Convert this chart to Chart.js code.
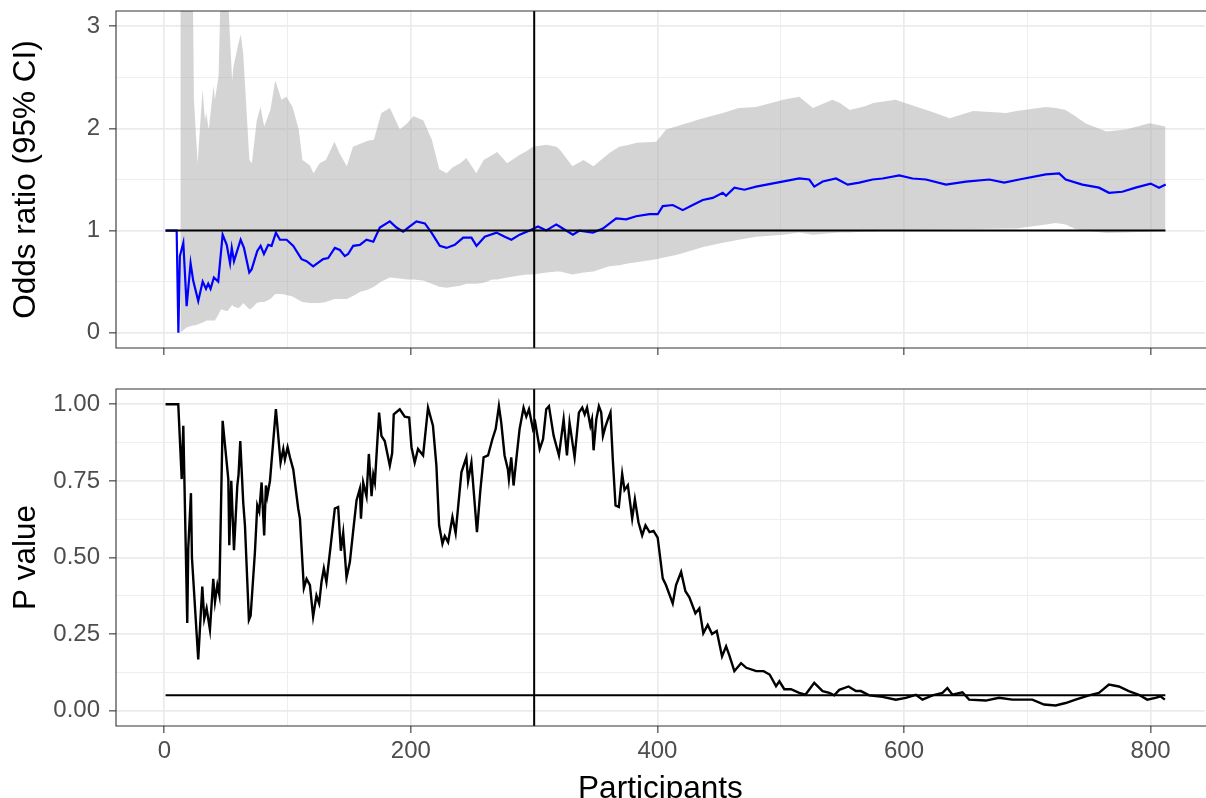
<!DOCTYPE html>
<html>
<head>
<meta charset="utf-8">
<title>Cumulative odds ratio and P value</title>
<script src="https://cdn.jsdelivr.net/npm/chart.js@4.4.0/dist/chart.umd.min.js"></script>
<style>
    html, body { margin: 0; padding: 0; background: #fff; overflow: hidden; width: 1206px; height: 798px; }
    #chartOdds { position: absolute; left: 0; top: 0; }
    #chartP { position: absolute; left: 0; top: 365px; }
</style>
</head>
<body>
<canvas id="chartOdds" width="1206" height="365"></canvas>
<canvas id="chartP" width="1206" height="445"></canvas>
<script>
/* ========================================
   Cumulative meta-analysis: odds ratio (95% CI) and P value by participants
   ======================================== */

// --- odds ratio (blue line) ---
const orX = [1, 10, 11.4, 12.6, 15.4, 18.1, 21.3, 23.4, 27.5, 31.1,
    33.8, 35.6, 37.5, 40.2, 43.7, 47.3, 50.6, 53.3, 54.7, 56.5,
    61.9, 64.6, 68.9, 70.8, 75.4, 78.1, 80.8, 84.3, 87, 90.5,
    93.8, 99.2, 104.6, 111.3, 115.4, 120.7, 128.8, 132.9, 138.3, 142.4,
    146.4, 149.1, 153.2, 158.6, 164, 169.5, 174.8, 182.9, 188.3, 193.7,
    199.1, 204.5, 211.3, 216.7, 223.4, 228.9, 235.6, 242.4, 249.1, 253.2,
    259.9, 269.4, 276.1, 281.5, 288.2, 296.3, 303.1, 309.8, 317.9, 320.6,
    331.4, 336.8, 347.6, 355.7, 366.5, 374.6, 382.7, 393.5, 400.2, 404.3,
    412.4, 420.5, 428.6, 436.7, 444.8, 452.9, 455.6, 462.4, 470.5, 480,
    497, 515, 523.1, 527.2, 534, 544.8, 554.3, 563.7, 574.5, 582.6,
    596.1, 606.9, 617.7, 634, 650.2, 669.1, 681.2, 693.4, 715, 725.8,
    731.1, 744.6, 758.1, 766.2, 777, 787.8, 800, 806.8, 812.2];
const orY = [1, 1, 0, 0.75, 0.88, 0.26, 0.68, 0.51, 0.31, 0.50,
    0.43, 0.48, 0.43, 0.54, 0.50, 0.96, 0.86, 0.68, 0.83, 0.70,
    0.91, 0.83, 0.59, 0.62, 0.80, 0.85, 0.77, 0.86, 0.85, 0.98,
    0.91, 0.91, 0.85, 0.72, 0.70, 0.65, 0.72, 0.73, 0.83, 0.81,
    0.75, 0.77, 0.85, 0.86, 0.91, 0.89, 1.03, 1.09, 1.03, 0.99,
    1.04, 1.09, 1.07, 0.98, 0.85, 0.83, 0.86, 0.93, 0.93, 0.85,
    0.94, 0.98, 0.94, 0.91, 0.96, 1.0, 1.04, 1.0, 1.06, 1.04,
    0.96, 1.0, 0.98, 1.02, 1.12, 1.11, 1.14, 1.16, 1.16, 1.24,
    1.25, 1.20, 1.25, 1.30, 1.32, 1.37, 1.34, 1.42, 1.40, 1.43,
    1.47, 1.51, 1.50, 1.43, 1.48, 1.51, 1.45, 1.47, 1.50, 1.51,
    1.54, 1.51, 1.50, 1.45, 1.48, 1.50, 1.47, 1.50, 1.55, 1.56,
    1.50, 1.45, 1.42, 1.37, 1.38, 1.42, 1.46, 1.42, 1.45];

// --- 95% CI (grey ribbon) ---
const ciX = [13, 18, 23, 24, 27, 31, 33, 34, 36, 40,
    41, 44, 46, 51, 53, 55, 56, 60, 62, 64,
    69, 71, 75, 78, 81, 86, 90, 95, 99, 104,
    109, 112, 118, 121, 126, 131, 138, 142, 148, 153,
    159, 165, 170, 176, 183, 191, 197, 202, 210, 217,
    223, 229, 234, 240, 245, 253, 259, 266, 270, 278,
    288, 294, 299, 310, 318, 321, 331, 340, 348, 361,
    369, 377, 383, 399, 407, 415, 421, 437, 453, 466,
    480, 502, 515, 526, 542, 548, 556, 569, 575, 593,
    618, 623, 637, 656, 683, 691, 715, 723, 731, 739,
    747, 764, 780, 799, 812];
const ciUpper = [3.6, 3.6, 3.5, 2.28, 1.66, 2.38, 2.08, 2.15, 1.99, 2.42,
    2.28, 2.51, 3.5, 3.5, 2.95, 2.47, 2.60, 2.83, 2.92, 2.73,
    1.69, 1.66, 2.08, 2.21, 2.02, 2.18, 2.47, 2.28, 2.31, 2.21,
    1.99, 1.69, 1.64, 1.56, 1.66, 1.69, 1.87, 1.76, 1.63, 1.82,
    1.85, 1.88, 1.89, 2.15, 2.20, 1.99, 2.05, 2.12, 2.08, 1.89,
    1.60, 1.56, 1.62, 1.66, 1.71, 1.56, 1.69, 1.74, 1.77, 1.66,
    1.74, 1.78, 1.82, 1.84, 1.82, 1.79, 1.63, 1.69, 1.63, 1.76,
    1.82, 1.84, 1.86, 1.87, 1.99, 2.02, 2.04, 2.10, 2.15, 2.20,
    2.21, 2.28, 2.31, 2.20, 2.28, 2.25, 2.18, 2.22, 2.25, 2.28,
    2.18, 2.16, 2.10, 2.17, 2.15, 2.17, 2.21, 2.20, 2.18, 2.12,
    2.05, 1.97, 1.99, 2.05, 2.02];
const ciLower = [0.0, 0.05, 0.07, 0.07, 0.08, 0.10, 0.11, 0.12, 0.12, 0.12,
    0.12, 0.18, 0.23, 0.21, 0.24, 0.27, 0.26, 0.24, 0.26, 0.29,
    0.23, 0.24, 0.29, 0.30, 0.30, 0.33, 0.38, 0.38, 0.37, 0.355,
    0.32, 0.30, 0.29, 0.29, 0.29, 0.30, 0.33, 0.33, 0.33, 0.36,
    0.40, 0.42, 0.45, 0.50, 0.54, 0.53, 0.52, 0.52, 0.51, 0.48,
    0.45, 0.44, 0.45, 0.46, 0.48, 0.48, 0.49, 0.52, 0.52, 0.54,
    0.56, 0.57, 0.57, 0.59, 0.60, 0.60, 0.57, 0.59, 0.60, 0.65,
    0.66, 0.68, 0.69, 0.72, 0.74, 0.76, 0.78, 0.84, 0.88, 0.91,
    0.94, 0.96, 0.98, 0.96, 0.975, 0.98, 0.98, 0.99, 0.99, 1.005,
    1.01, 1.01, 1.012, 1.015, 1.02, 1.02, 1.06, 1.075, 1.06, 1.015,
    1.0, 0.977, 0.98, 0.99, 1.0];

// --- P value (black line) ---
const pX = [1, 11.3, 14.1, 15.4, 18.6, 19.4, 21.6, 22.4, 27.5, 30.8,
    32.4, 34.3, 37, 39.7, 41.1, 43, 44.6, 47.3, 51.9, 52.7,
    54.3, 56.5, 59.2, 60.2, 61.6, 64, 65.4, 68.6, 70, 73.5,
    75.4, 77, 78.9, 81, 82.4, 83.5, 85.7, 90.5, 94.3, 96.5,
    97.8, 100, 101.9, 104.6, 108.6, 110, 113.2, 115.4, 118.1, 120.7,
    123.4, 125.6, 127.5, 129.4, 131.5, 134.8, 138.3, 141, 143.2, 145.1,
    147.8, 150.5, 153.2, 155.9, 158.6, 159.5, 161.3, 164, 165.9, 168.1,
    169.5, 170.8, 174.2, 176.1, 178.8, 182.9, 184.8, 186.1, 191, 195,
    198.6, 200.5, 203.1, 205.8, 209.9, 213.9, 217.9, 220.7, 222.9, 225.6,
    227.5, 230.2, 233.7, 236.3, 241, 245, 246.4, 249.1, 253.6, 256.3,
    259, 262.6, 266.1, 268.8, 271.4, 273.3, 276, 278.7, 279.5, 281.4,
    283.3, 285.5, 288.2, 291.4, 293.6, 295.8, 299, 300.9, 304.5, 307.2,
    309.8, 312, 315.8, 320.1, 323.9, 326.6, 328.7, 332.8, 336.3, 339,
    341, 342.9, 345.6, 346.9, 348.2, 350.4, 352.5, 354.4, 355.8, 358,
    359.8, 361.9, 363.8, 366, 368.7, 371.4, 373.3, 376, 379.5, 381.7,
    384.6, 387.6, 390.3, 393.6, 396.8, 400.2, 404.3, 406.9, 412.4, 415.1,
    419.2, 422.7, 425.9, 430.8, 434, 437.2, 440.8, 444.3, 448.1, 452.4,
    455.7, 458.4, 462.4, 467.8, 472.1, 480.2, 486.1, 491, 496.2, 498.9,
    502.9, 508.3, 515, 520, 527.2, 534, 539.4, 543.4, 547.5, 555,
    561, 565, 571.8, 582.6, 593.4, 601.5, 609.6, 615, 623.1, 631.2,
    635.2, 639.3, 647.4, 652.8, 666.3, 677.1, 687.9, 704.1, 713.6, 723,
    731.1, 739.2, 750, 758.1, 766.2, 774.3, 782.4, 790.5, 797.3, 804,
    808.1, 811.6];
const pY = [1.0, 1.0, 0.756, 0.93, 0.286, 0.53, 0.71, 0.50, 0.167, 0.405,
    0.30, 0.334, 0.264, 0.43, 0.356, 0.41, 0.378, 0.946, 0.756, 0.54,
    0.75, 0.524, 0.735, 0.77, 0.88, 0.68, 0.605, 0.296, 0.31, 0.518,
    0.67, 0.65, 0.745, 0.572, 0.735, 0.70, 0.75, 0.984, 0.81, 0.854,
    0.82, 0.86, 0.827, 0.787, 0.66, 0.627, 0.40, 0.43, 0.41, 0.307,
    0.376, 0.35, 0.42, 0.464, 0.42, 0.534, 0.66, 0.665, 0.522, 0.58,
    0.435, 0.485, 0.587, 0.686, 0.724, 0.627, 0.745, 0.70, 0.838, 0.70,
    0.77, 0.745, 0.973, 0.897, 0.88, 0.80, 0.84, 0.967, 0.984, 0.96,
    0.957, 0.86, 0.81, 0.854, 0.833, 0.989, 0.93, 0.80, 0.605, 0.545,
    0.57, 0.55, 0.632, 0.58, 0.778, 0.827, 0.75, 0.81, 0.583, 0.717,
    0.827, 0.833, 0.886, 0.92, 0.994, 0.94, 0.833, 0.787, 0.756, 0.827,
    0.735, 0.82, 0.92, 0.989, 0.96, 0.984, 0.92, 0.94, 0.854, 0.886,
    0.984, 0.994, 0.897, 0.833, 0.951, 0.833, 0.94, 0.827, 0.973, 0.989,
    0.967, 0.989, 0.93, 0.951, 0.85, 0.951, 0.994, 0.973, 0.897, 0.93,
    0.951, 0.973, 0.82, 0.67, 0.665, 0.773, 0.72, 0.736, 0.627, 0.69,
    0.615, 0.572, 0.605, 0.583, 0.587, 0.565, 0.432, 0.41, 0.35, 0.41,
    0.453, 0.39, 0.37, 0.318, 0.334, 0.253, 0.28, 0.25, 0.26, 0.177,
    0.21, 0.18, 0.129, 0.155, 0.14, 0.129, 0.129, 0.118, 0.08, 0.096,
    0.07, 0.07, 0.058, 0.052, 0.091, 0.064, 0.058, 0.05, 0.068, 0.079,
    0.064, 0.064, 0.05, 0.045, 0.036, 0.042, 0.052, 0.036, 0.05, 0.058,
    0.074, 0.052, 0.06, 0.036, 0.033, 0.042, 0.036, 0.036, 0.02, 0.017,
    0.025, 0.036, 0.05, 0.058, 0.085, 0.079, 0.064, 0.052, 0.036, 0.042,
    0.047, 0.036];

// --- reference lines ---
const refRange = [1, 812];          // participants covered by the horizontal lines
const oddsNull = 1;                 // OR = 1
const pThreshold = 0.05;            // P = 0.05
const interimAt = 300;              // vertical marker

// --- axes ---
const xMajor = [0, 200, 400, 600, 800];
const xMinor = [100, 300, 500, 700];
const orMajor = [0, 1, 2, 3];
const orMinor = [0.5, 1.5, 2.5];
const pMajor = [0, 0.25, 0.5, 0.75, 1];
const pMinor = [0.125, 0.375, 0.625, 0.875];

// the panel runs past the right edge of the picture
const X_MIN = -39.2, X_MAX = 844.0;
const OR_MIN = -0.15, OR_MAX = 3.15;
const P_MIN = -0.05, P_MAX = 1.05;

const TICK_COLOR = '#4D4D4D';
const GRID_COLOR = '#EBEBEB';
const FONT = '"Liberation Sans", Arial, Helvetica, sans-serif';

let chartOdds = null;
let chartP = null;

function pairs(xs, ys) {
    const n = Math.min(xs.length, ys.length);
    const out = [];
    for (let i = 0; i < n; i++) out.push({ x: xs[i], y: ys[i] });
    return out;
}

/**
 * Panel border (theme_bw), open on the right because the panel is cut there
 */
const panelBorder = {
    id: 'panelBorder',
    afterDraw(chart) {
        const { ctx, chartArea: a } = chart;
        const w = chart.width + 5;
        ctx.save();
        ctx.strokeStyle = '#333333';
        ctx.lineWidth = 1.1;
        ctx.beginPath();
        ctx.moveTo(w, a.top);
        ctx.lineTo(a.left, a.top);
        ctx.lineTo(a.left, a.bottom);
        ctx.lineTo(w, a.bottom);
        ctx.stroke();
        ctx.restore();
    }
};

/**
 * Scale with major and minor grid lines
 */
function gridScale(major, minor, min, max, label, extra) {
    const isMajor = v => major.some(m => Math.abs(m - v) < 1e-9);
    return Object.assign({
        type: 'linear',
        min: min,
        max: max,
        afterBuildTicks: (scale) => {
            scale.ticks = major.concat(minor).sort((a, b) => a - b).map(v => ({ value: v }));
        },
        ticks: {
            autoSkip: false,
            maxRotation: 0,
            color: TICK_COLOR,
            font: { size: 24, family: FONT },
            callback: (value) => isMajor(value) ? label(value) : ''
        },
        grid: {
            color: GRID_COLOR,
            lineWidth: (c) => (c.tick && isMajor(c.tick.value)) ? 1.7 : 0.85,
            drawTicks: true,
            tickLength: 7,
            tickWidth: 1.1,
            tickColor: (c) => (c.tick && isMajor(c.tick.value)) ? '#333333' : 'rgba(0,0,0,0)'
        },
        border: { display: false }
    }, extra);
}

function yTitle(text) {
    return {
        display: true,
        text: text,
        color: '#000',
        font: { size: 31.5, family: FONT },
        padding: { top: 7, bottom: 0 }
    };
}

function fixY(scale) {
    scale.width = 116;
    scale.paddingTop = 0;
    scale.paddingBottom = 0;
}

/**
 * Top panel: odds ratio (95% CI)
 */
function initChartOdds() {
    const ctx = document.getElementById('chartOdds');
    if (chartOdds) chartOdds.destroy();

    chartOdds = new Chart(ctx, {
        type: 'line',
        data: {
            datasets: [
                {
                    label: 'interim',
                    data: [{ x: interimAt, y: OR_MIN - 1 }, { x: interimAt, y: OR_MAX + 1 }],
                    borderColor: '#000', borderWidth: 2, pointRadius: 0, fill: false
                },
                {
                    label: 'null',
                    data: [{ x: refRange[0], y: oddsNull }, { x: refRange[1], y: oddsNull }],
                    borderColor: '#000', borderWidth: 2, pointRadius: 0, fill: false
                },
                {
                    label: 'Odds ratio',
                    data: pairs(orX, orY),
                    borderColor: '#0000FF', borderWidth: 2.2, pointRadius: 0, fill: false
                },
                {
                    label: 'Upper CI',
                    data: pairs(ciX, ciUpper),
                    borderColor: 'rgba(0,0,0,0)', borderWidth: 0, pointRadius: 0,
                    backgroundColor: 'rgba(170,170,170,0.5)',
                    fill: '+1'
                },
                {
                    label: 'Lower CI',
                    data: pairs(ciX, ciLower),
                    borderColor: 'rgba(0,0,0,0)', borderWidth: 0, pointRadius: 0, fill: false
                }
            ]
        },
        options: {
            responsive: false,
            animation: false,
            devicePixelRatio: 1,
            layout: { padding: { top: 11, right: 0, bottom: 0, left: 0 } },
            elements: { line: { tension: 0 } },
            plugins: { legend: { display: false }, tooltip: { enabled: false } },
            scales: {
                x: gridScale(xMajor, xMinor, X_MIN, X_MAX, () => '', {
                    afterFit: (scale) => { scale.height = 17; scale.paddingLeft = 0; scale.paddingRight = 0; }
                }),
                y: gridScale(orMajor, orMinor, OR_MIN, OR_MAX, v => String(v), {
                    title: yTitle('Odds ratio (95% CI)'),
                    afterFit: fixY
                })
            }
        },
        plugins: [panelBorder]
    });
    chartOdds.options.scales.y.ticks.padding = 9;
    chartOdds.update();
}

/**
 * Bottom panel: P value
 */
function initChartP() {
    const ctx = document.getElementById('chartP');
    if (chartP) chartP.destroy();

    chartP = new Chart(ctx, {
        type: 'line',
        data: {
            datasets: [
                {
                    label: 'interim',
                    data: [{ x: interimAt, y: P_MIN - 1 }, { x: interimAt, y: P_MAX + 1 }],
                    borderColor: '#000', borderWidth: 2, pointRadius: 0, fill: false
                },
                {
                    label: 'threshold',
                    data: [{ x: refRange[0], y: pThreshold }, { x: refRange[1], y: pThreshold }],
                    borderColor: '#000', borderWidth: 2, pointRadius: 0, fill: false
                },
                {
                    label: 'P value',
                    data: pairs(pX, pY),
                    borderColor: '#000', borderWidth: 2.4, pointRadius: 0, fill: false
                }
            ]
        },
        options: {
            responsive: false,
            animation: false,
            devicePixelRatio: 1,
            layout: { padding: { top: 24, right: 0, bottom: 0, left: 0 } },
            elements: { line: { tension: 0 } },
            plugins: { legend: { display: false }, tooltip: { enabled: false } },
            scales: {
                x: gridScale(xMajor, xMinor, X_MIN, X_MAX, v => String(v), {
                    title: {
                        display: true,
                        text: 'Participants',
                        color: '#000',
                        font: { size: 31.5, family: FONT },
                        padding: { top: 0, bottom: 2 }
                    },
                    afterFit: (scale) => { scale.height = 84; scale.paddingLeft = 0; scale.paddingRight = 0; }
                }),
                y: gridScale(pMajor, pMinor, P_MIN, P_MAX, v => v.toFixed(2), {
                    title: yTitle('P value'),
                    afterFit: fixY
                })
            }
        },
        plugins: [panelBorder]
    });
    chartP.options.scales.x.ticks.padding = 4;
    chartP.options.scales.y.ticks.padding = 9;
    chartP.update();
}

function initCharts() {
    if (typeof Chart === 'undefined') {
        console.error('Chart.js not loaded');
        return;
    }
    Chart.defaults.font.family = FONT;
    initChartOdds();
    initChartP();
}

if (document.readyState === 'loading') {
    document.addEventListener('DOMContentLoaded', initCharts);
} else {
    initCharts();
}
</script>
</body>
</html>
